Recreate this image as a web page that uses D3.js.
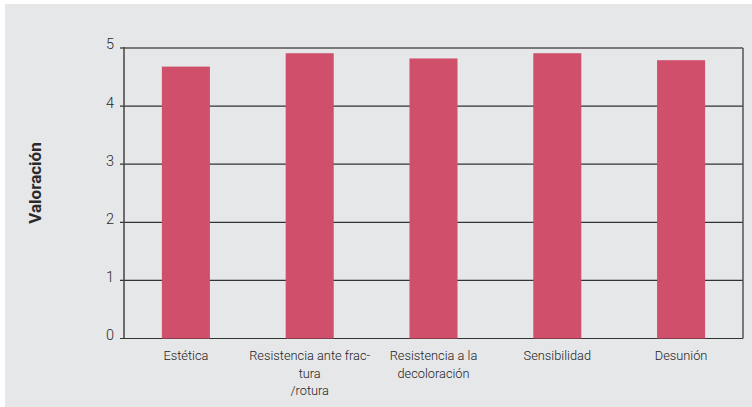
<!DOCTYPE html>
<html><head><meta charset="utf-8">
<script src="https://cdn.jsdelivr.net/npm/d3@7"></script>
<style>
html,body{margin:0;padding:0;background:#fff;}
svg{display:block;}
</style></head>
<body>
<script>
const categories = ["Estética", "Resistencia ante fractura/rotura", "Resistencia a la decoloración", "Sensibilidad", "Desunión"];
const categoryLines = [["Estética"], ["Resistencia ante frac-", "tura", "/rotura"], ["Resistencia a la", "decoloración"], ["Sensibilidad"], ["Desunión"]];
const values = [4.68, 4.91, 4.82, 4.91, 4.79];
const yTicks = [0, 1, 2, 3, 4, 5];
const yLabel = "Valoración";

const W = 752, H = 407;
const m = {left: 124, right: 9, top: 48, bottom: 68.5};
const svg = d3.select("body").append("svg").attr("width", W).attr("height", H);
svg.append("rect").attr("x", 5).attr("y", 4).attr("width", W - 5).attr("height", H - 4).attr("fill", "#e6e7e9");

const x = d3.scaleBand().domain(categories).range([m.left, W - m.right]).paddingInner(0.612).paddingOuter(0.306);
const y = d3.scaleLinear().domain([0, 5]).range([H - m.bottom, m.top]);

const g = svg.append("g");
// grid lines
g.selectAll("line.grid").data(yTicks).join("line")
  .attr("x1", m.left - 4).attr("x2", W - m.right)
  .attr("y1", d => y(d)).attr("y2", d => y(d))
  .attr("stroke", d => d === 5 ? "#555" : "#333").attr("stroke-width", d => d === 5 ? 1.5 : 1.2);
// right border
g.append("line").attr("x1", W - m.right).attr("x2", W - m.right).attr("y1", y(5)).attr("y2", y(0))
  .attr("stroke", "#555").attr("stroke-width", 1.5);

// bars
g.selectAll("rect.bar").data(values).join("rect")
  .attr("x", (d, i) => x(categories[i])).attr("width", x.bandwidth())
  .attr("y", d => y(d)).attr("height", d => y(0) - y(d))
  .attr("fill", "#d04f6b");

// y axis line
g.append("line").attr("x1", m.left).attr("x2", m.left).attr("y1", y(5) - 1).attr("y2", y(0))
  .attr("stroke", "#444").attr("stroke-width", 1.5);

// y tick labels
g.selectAll("text.yt").data(yTicks).join("text")
  .attr("x", m.left - 10).attr("y", d => y(d)).attr("dy", "0.1em")
  .attr("text-anchor", "end").attr("font-family", "Roboto, sans-serif").attr("font-weight", 300)
  .attr("font-size", 14.5).attr("fill", "#2a2a2a").text(d => d);

// x labels
categoryLines.forEach((lines, i) => {
  const cx = x(categories[i]) + x.bandwidth() / 2;
  const t = g.append("text").attr("text-anchor", "middle").attr("font-family", "Roboto, sans-serif")
    .attr("font-weight", 300).attr("font-size", 12.8).attr("fill", "#222");
  lines.forEach((ln, j) => {
    t.append("tspan").attr("x", cx).attr("y", 360 + j * 17.5).text(ln);
  });
});

// y axis title
svg.append("text").attr("transform", "translate(41,183) rotate(-90)")
  .attr("text-anchor", "middle").attr("font-family", "Roboto, sans-serif").attr("font-weight", 700)
  .attr("font-size", 17).attr("fill", "#2a2a2a").text(yLabel);
</script>
</body></html>
